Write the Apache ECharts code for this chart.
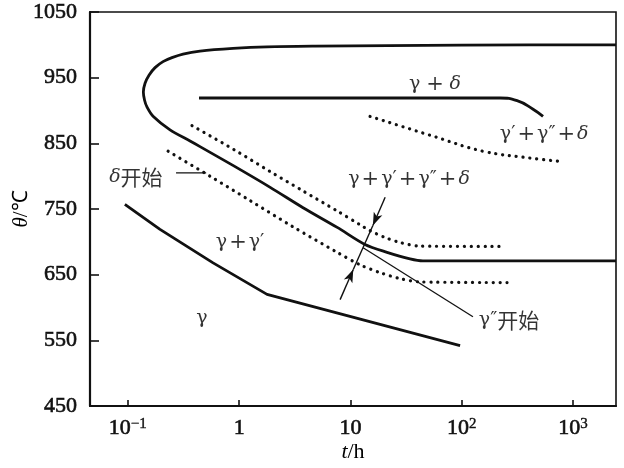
<!DOCTYPE html>
<html><head><meta charset="utf-8">
<script src="https://cdn.jsdelivr.net/npm/echarts@6/dist/echarts.min.js"></script>
<style>html,body{margin:0;padding:0;background:#fff}#c{width:624px;height:468px}</style>
</head><body><div id="c"></div>
<script>
// ---- data (t in h, θ in °C) ----
const yTickValues = [450, 550, 650, 750, 850, 950, 1050];
const xTickLabels = ['10{s|−1}', '1', '10', '10{s|2}', '10{s|3}'];
const xTickExponents = [-1, 0, 1, 2, 3];

// δ start C-curve (solid)
const deltaStartCurve = [
  [2430, 1000], [100, 999.5], [4.81, 998], [1.78, 997], [0.882, 994.6], [0.445, 990.5],
  [0.313, 986], [0.249, 980.5], [0.207, 974.4], [0.1756, 965.3], [0.1549, 953.8],
  [0.1427, 941.6], [0.1378, 928], [0.1413, 915.6], [0.1488, 905], [0.1684, 891.2],
  [0.2393, 870.5], [0.362, 853.5], [0.445, 845], [0.887, 816],
  [1.9, 783], [3.75, 752], [7.6, 722], [13.5, 696], [21.3, 684], [34.3, 674],
  [44.8, 671], [2430, 671]
];
// inner solid line (γ+δ region)
const gammaDeltaLine = [[0.436, 919], [221, 919], [314, 915], [437, 902], [537, 891]];
// dotted: γ'+γ''+δ boundary
const dottedUpperRight = [[15, 891], [55, 861], [155, 838], [437, 827], [813, 822]];
// dotted: upper-left
const dottedUpper = [[0.377, 877], [0.887, 841], [1.9, 807], [3.75, 777.5], [7.6, 747], [12.2, 726], [15, 717], [20.5, 706.5], [27.9, 699], [42.2, 693.5], [221, 693]];
// dotted: lower-left
const dottedLower = [[0.23, 838], [0.547, 800], [1.25, 763], [3.04, 723], [7.6, 684], [12.2, 665], [18.5, 653], [27.9, 644], [42.2, 639], [255, 638]];
// solid: γ boundary
const gammaBoundary = [[0.094, 757], [0.1945, 719], [0.583, 668], [1.78, 620], [96.6, 542]];
// leader lines
const deltaLeader = [[0.271, 805], [0.505, 805]];
const gammaDPLeader = [[13, 691], [126, 586]];
// arrow line: bottom, lower tip, upper tip, top
const arrowBottom = [8.07, 612];
const arrowLowerTip = [10.6, 658];
const arrowUpperTip = [15.9, 725];
const arrowTop = [20.5, 768];
// region labels
const labelTexts = ['{g|γ\u2009}{p|+}{g|\u2009}{d|δ}', '{g|γ′}{p|+}{g|γ″}{p|+}{d|δ}', '{g|γ}{p|+}{g|γ′}{p|+}{g|γ″}{p|+}{d|δ}', '{d|δ}{c|开始}', '{g|γ}{p|+}{g|γ′}', '{g|γ}', '{g|γ″}{c|开始}'];
const labelT = [57.5, 550, 33.6, 0.118, 1.02, 0.464, 266];
const labelTemp = [940, 864, 795, 798, 699, 584, 581];

const chart = echarts.init(document.getElementById('c'), null, {renderer: 'canvas'});
const serif = 'Liberation Serif, Times New Roman, serif';
const greek = 'DejaVu Serif, serif';
const solid = {color: '#111', width: 2.8};
const dotted = {color: '#111', width: 3.2, type: [0.1, 6.8], cap: 'round'};

function lineSeries(data, style, smooth) {
  return {type: 'line', data: data, showSymbol: false, symbol: 'none', smooth: smooth, lineStyle: style, silent: true, z: 3, clip: true};
}

const labelData = labelTexts.map((s, i) => ({value: [labelT[i], labelTemp[i]], name: s}));

chart.setOption({
  animation: false,
  backgroundColor: '#fff',
  grid: {left: 90, right: 8, top: 12, bottom: 62, containLabel: false, outerBoundsMode: 'none', show: true, borderColor: '#111', borderWidth: 1.6},
  xAxis: {
    type: 'log', logBase: 10, min: 0.0457, max: 2430,
    name: '{i|t}/h', nameLocation: 'middle', nameGap: 35, nameMoveOverlap: false,
    nameTextStyle: {fontFamily: serif, fontSize: 22, color: '#000', rich: {i: {fontStyle: 'italic', fontFamily: serif, fontSize: 22}}},
    axisLine: {show: true, lineStyle: {color: '#111', width: 2.2}},
    axisTick: {show: true, inside: true, length: 6, lineStyle: {color: '#111', width: 1.6}},
    minorTick: {show: false},
    splitLine: {show: false},
    axisLabel: {
      showMinLabel: false, showMaxLabel: false, margin: 11,
      fontFamily: serif, fontSize: 22, color: '#111', textBorderColor: '#111', textBorderWidth: 0.6,
      formatter: function (v) {
        const l = Math.log10(v);
        const e = Math.round(l);
        if (Math.abs(l - e) > 0.01) return '';
        const k = xTickExponents.indexOf(e);
        return k < 0 ? '' : xTickLabels[k];
      },
      rich: {s: {fontSize: 15, fontFamily: serif, verticalAlign: 'top', lineHeight: 12, color: '#111', textBorderColor: '#111', textBorderWidth: 0.4}}
    }
  },
  yAxis: {
    type: 'value', min: 450, max: 1050, interval: 100,
    name: '{i|θ}/℃', nameLocation: 'middle', nameGap: 58, nameMoveOverlap: false,
    nameTextStyle: {fontFamily: serif, fontSize: 21, color: '#000', rich: {i: {fontStyle: 'italic', fontFamily: serif, fontSize: 21}}},
    axisLine: {show: true, lineStyle: {color: '#111', width: 2.2}},
    axisTick: {show: true, inside: true, length: 9, lineStyle: {color: '#111', width: 1.6}},
    splitLine: {show: false},
    axisLabel: {margin: 13, fontFamily: serif, fontSize: 22, color: '#111', textBorderColor: '#111', textBorderWidth: 0.6,
      formatter: v => (yTickValues.indexOf(v) >= 0 ? String(v) : '')}
  },
  series: [
    lineSeries(deltaStartCurve, solid, 0.3),
    lineSeries(gammaDeltaLine, solid, 0.5),
    lineSeries(dottedUpperRight, dotted, 0.4),
    lineSeries(dottedUpper, dotted, 0.3),
    lineSeries(dottedLower, dotted, 0.3),
    lineSeries(gammaBoundary, solid, false),
    lineSeries(deltaLeader, {color: '#111', width: 1.4}, false),
    Object.assign(lineSeries(gammaDPLeader, {color: '#111', width: 1.3}, false), {
      markLine: {
        silent: true, animation: false,
        lineStyle: {color: '#111', width: 1.4, type: 'solid'},
        label: {show: false},
        symbolSize: [7, 13],
        data: [
          [{coord: arrowBottom, symbol: 'none'}, {coord: arrowLowerTip, symbol: 'arrow'}],
          [{coord: arrowLowerTip, symbol: 'none'}, {coord: arrowUpperTip, symbol: 'none'}],
          [{coord: arrowTop, symbol: 'none'}, {coord: arrowUpperTip, symbol: 'arrow'}]
        ]
      }
    }),
    {
      type: 'scatter', data: labelData, symbolSize: 0, silent: true, z: 5,
      label: {
        show: true, position: 'inside', color: '#000',
        formatter: p => p.name,
        rich: {
          g: {fontFamily: greek, fontSize: 19, color: '#000'},
          p: {fontFamily: greek, fontSize: 21, color: '#000', padding: [0, 2, 0, 2]},
          d: {fontFamily: greek, fontSize: 19, fontStyle: 'italic', color: '#000'},
          c: {fontFamily: 'Noto Sans CJK SC', fontSize: 21, color: '#000'}
        }
      }
    }
  ]
});
</script>
</body></html>
